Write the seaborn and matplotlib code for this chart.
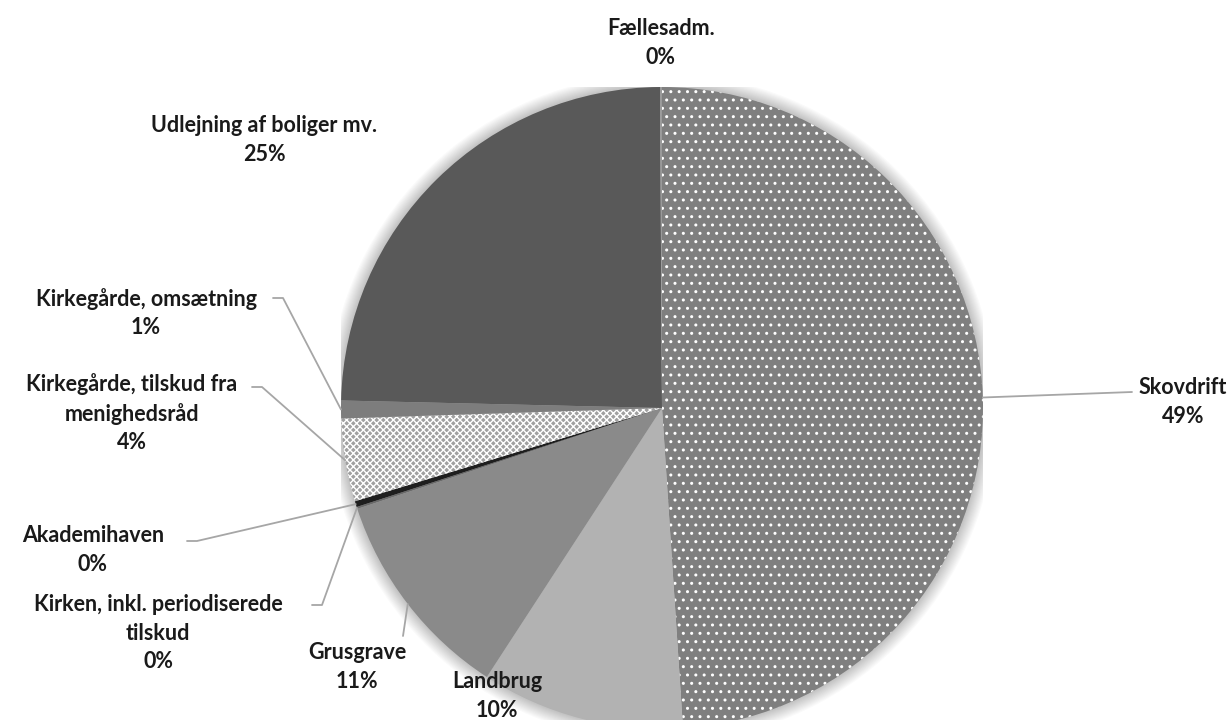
import numpy as np
import matplotlib
matplotlib.use("Agg")
import matplotlib.pyplot as plt
import seaborn as sns
from matplotlib.patches import Circle

sns.set_theme(style="white")
plt.rcParams['font.family'] = ['Lato', 'DejaVu Sans']

# ---- data ----
categories = ["Skovdrift", "Landbrug", "Grusgrave", "Kirken, inkl. periodiserede\ntilskud",
              "Akademihaven", "Kirkegårde, tilskud fra\nmenighedsråd", "Kirkegårde, omsætning",
              "Udlejning af boliger mv.", "Fællesadm."]
values = [49.3, 10.3, 10.8, 0.1, 0.3, 4.2, 0.9, 24.7, 0.1]
pct_labels = ["49%", "10%", "11%", "0%", "0%", "4%", "1%", "25%", "0%"]

# ---- styles ----
colors = ["#7f7f7f", "#b2b2b2", "#8a8a8a", "#6a6a6a", "#1e1e1e", "#a0a0a0", "#7d7d7d", "#595959", "#9a9a9a"]
hatches = ["..", None, None, None, None, "xxxxx", None, None, None]

W, H = 1232, 720
CX, CY, R = 662, 408, 321

fig = plt.figure(figsize=(W / 100, H / 100), dpi=100)
ax = fig.add_axes([(CX - R) / W, (H - CY - R) / H, 2 * R / W, 2 * R / H])

def px(x, y):
    return ((x - CX) / R, (CY - y) / R)

# soft shadow
for i in range(12):
    ax.add_patch(Circle((0, 0), 1.0 + 0.0035 * (12 - i), color="#000000",
                        alpha=0.018, lw=0, zorder=0))

wedges, _ = ax.pie(values, startangle=90, counterclock=False, colors=colors, radius=1,
                   wedgeprops=dict(linewidth=0))
for w, h in zip(wedges, hatches):
    w.set_zorder(2)
    if h:
        w.set_hatch(h)
        w.set_edgecolor("white")
        w.set_linewidth(0)

ax.set_xlim(-1, 1)
ax.set_ylim(-1, 1)
ax.set_aspect("equal")
ax.axis("off")

# label layout (pixel positions of label centres, leader start points)
layout = {
    0: dict(pos=(1183, 402), lead=[(1132, 392)]),
    1: dict(pos=(497, 696), lead=None),
    2: dict(pos=(357, 667), lead=[(403, 636)]),
    3: dict(pos=(158, 633), lead=[(312, 605), (322, 605)]),
    4: dict(pos=(93, 550), lead=[(187, 541), (197, 541)]),
    5: dict(pos=(132, 413), lead=[(252, 387), (262, 387)]),
    6: dict(pos=(146, 313), lead=[(273, 298), (283, 298)]),
    7: dict(pos=(264, 140), lead=None),
    8: dict(pos=(661, 43), lead=None),
}

total = sum(values)
cum = np.cumsum([0] + values[:-1])
for i, (cat, pct) in enumerate(zip(categories, pct_labels)):
    L = layout[i]
    tx, ty = px(*L["pos"])
    ax.text(tx, ty, f"{cat}\n{pct}", ha="center", va="center", multialignment="center",
            fontsize=15.5, fontweight="bold", color="#1a1a1a", linespacing=1.42,
            clip_on=False, zorder=5)
    if L["lead"]:
        mid = (cum[i] + values[i] / 2) / total * 2 * np.pi
        ex, ey = np.sin(mid), np.cos(mid)
        pts = [px(*p) for p in L["lead"]] + [(ex, ey)]
        xs, ys = zip(*pts)
        ax.plot(xs, ys, color="#a6a6a6", lw=1.3, clip_on=False, zorder=4)

fig.savefig("out.png", dpi=100, facecolor="white")
